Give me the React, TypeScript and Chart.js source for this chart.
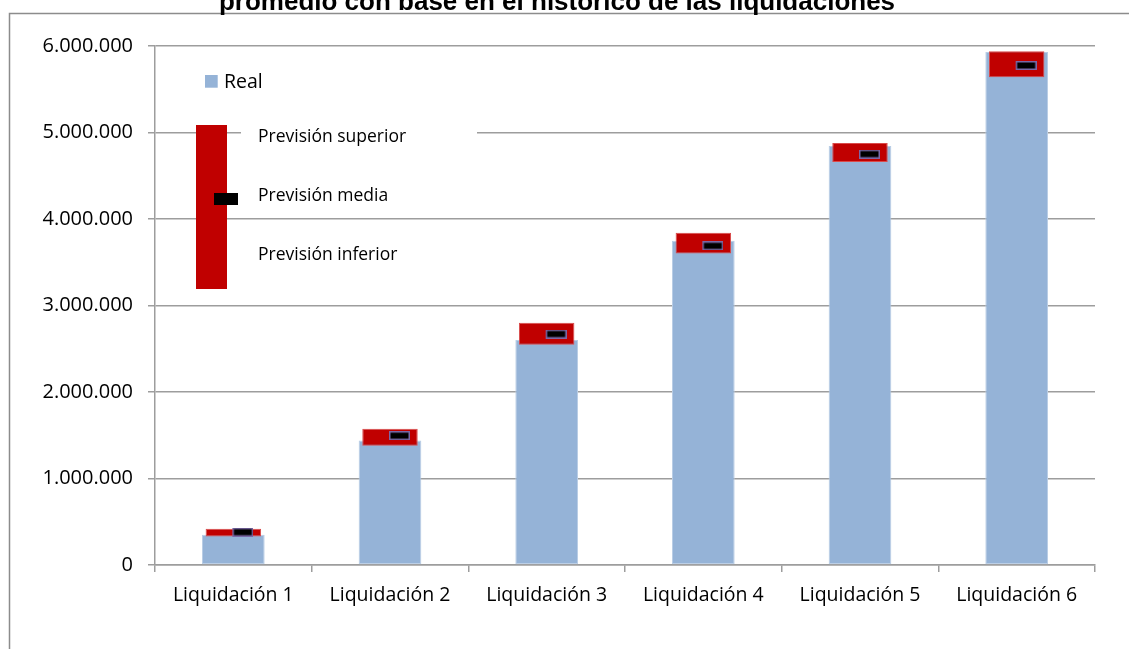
import React, { useEffect, useRef } from 'react';
import { Chart, registerables } from 'chart.js';

Chart.register(...registerables);

const categories = ['Liquidación 1', 'Liquidación 2', 'Liquidación 3', 'Liquidación 4', 'Liquidación 5', 'Liquidación 6'];
const realValues = [350000, 1440000, 2600000, 3750000, 4845000, 5930000];
const upperForecast = [420000, 1575000, 2800000, 3840000, 4880000, 5940000];
const lowerForecast = [330000, 1380000, 2545000, 3600000, 4660000, 5640000];
const meanForecast = [380000, 1495000, 2670000, 3690000, 4750000, 5775000];
const yTickValues = [0, 1000000, 2000000, 3000000, 4000000, 5000000, 6000000];
const titleText = 'promedio con base en el histórico de las liquidaciones';
const legendReal = 'Real';
const legendUpper = 'Previsión superior';
const legendMean = 'Previsión media';
const legendLower = 'Previsión inferior';

const FONT = '"Open Sans", sans-serif';
const BLUE = '#95B3D7';
const RED = '#C00000';
const GRID = '#9d9d9d';

function formatThousands(v: number): string {
  return String(Math.round(v)).replace(/\B(?=(\d{3})+(?!\d))/g, '.');
}

export default function App() {
  const ref = useRef<HTMLCanvasElement>(null);

  useEffect(() => {
    document.body.style.margin = '0';
    document.body.style.overflow = 'hidden';
    const canvas = ref.current!;

    const marker = document.createElement('canvas');
    marker.width = 40;
    marker.height = 9;
    const mctx = marker.getContext('2d')!;
    mctx.fillStyle = '#7a68a6';
    mctx.fillRect(19, 0, 21, 9);
    mctx.fillStyle = '#000000';
    mctx.fillRect(20.5, 1.5, 18, 6);

    const framePlugin = {
      id: 'frameAndLegend',
      afterDraw(chart: any) {
        const ctx = chart.ctx as CanvasRenderingContext2D;
        ctx.save();
        // outer frame
        ctx.strokeStyle = '#8c8c8c';
        ctx.lineWidth = 1.5;
        ctx.beginPath();
        ctx.moveTo(9.5, 649);
        ctx.lineTo(9.5, 13.5);
        ctx.lineTo(1129, 13.5);
        ctx.stroke();
        // title (clipped at top)
        ctx.fillStyle = '#000';
        ctx.font = 'bold 26px "Liberation Sans", Arial, sans-serif';
        ctx.textAlign = 'center';
        ctx.textBaseline = 'alphabetic';
        ctx.fillText(titleText, 557, 10);
        // legend
        ctx.fillStyle = '#ffffff';
        ctx.fillRect(241, 124, 236, 20);
        ctx.fillStyle = BLUE;
        ctx.fillRect(205, 75, 12.7, 12.7);
        ctx.fillStyle = '#000';
        ctx.textAlign = 'left';
        ctx.font = '19.5px ' + FONT;
        ctx.fillText(legendReal, 224, 88);
        ctx.fillStyle = RED;
        ctx.fillRect(196, 125, 31, 164);
        ctx.fillStyle = '#000';
        ctx.fillRect(214, 193, 24, 12);
        ctx.font = '17.5px ' + FONT;
        ctx.fillText(legendUpper, 258, 142);
        ctx.fillText(legendMean, 258, 201);
        ctx.fillText(legendLower, 258, 260);
        ctx.restore();
      },
    };

    const chart = new Chart(canvas, {
      type: 'bar',
      data: {
        labels: categories,
        datasets: [
          {
            type: 'line',
            label: legendMean,
            data: meanForecast,
            showLine: false,
            pointStyle: marker as any,
            pointRadius: 6,
            order: 1,
          } as any,
          {
            type: 'bar',
            label: 'Previsión',
            data: lowerForecast.map((l, i) => [l, upperForecast[i]]),
            backgroundColor: RED,
            borderColor: '#d94a4a',
            borderWidth: 1,
            borderSkipped: false,
            barPercentage: 0.354,
            categoryPercentage: 1,
            grouped: false,
            order: 2,
          } as any,
          {
            type: 'bar',
            label: legendReal,
            data: realValues,
            backgroundColor: BLUE,
            borderColor: '#b9cde5',
            borderWidth: 1,
            borderSkipped: false,
            barPercentage: 0.4,
            categoryPercentage: 1,
            grouped: false,
            order: 3,
          } as any,
        ],
      },
      options: {
        responsive: false,
        animation: false,
        devicePixelRatio: 1,
        layout: { padding: { top: 46, right: 34, left: 0, bottom: 0 } },
        plugins: {
          legend: { display: false },
          tooltip: { enabled: false },
          title: { display: false },
        },
        scales: {
          x: {
            offset: true,
            afterFit: (s: any) => { s.height = 84; },
            grid: {
              offset: true,
              drawOnChartArea: false,
              drawTicks: true,
              tickLength: 7,
              color: GRID,
              lineWidth: 1.5,
            },
            border: { display: true, color: GRID, width: 1.5 },
            ticks: {
              color: '#000',
              font: { family: FONT, size: 19.5 },
              padding: 12,
              maxRotation: 0,
              autoSkip: false,
            },
          },
          y: {
            min: 0,
            max: 6000000,
            afterFit: (s: any) => { s.width = 155; },
            afterBuildTicks: (s: any) => { s.ticks = yTickValues.map((v) => ({ value: v })); },
            grid: {
              color: GRID,
              lineWidth: 1.5,
              tickLength: 7,
              drawTicks: true,
            },
            border: { display: true, color: GRID, width: 1.5 },
            ticks: {
              color: '#000',
              font: { family: FONT, size: 20 },
              padding: 15,
              callback: (v: any) => formatThousands(Number(v)),
            },
          },
        },
      },
      plugins: [framePlugin],
    });

    return () => chart.destroy();
  }, []);

  return <canvas ref={ref} width={1129} height={649} style={{ display: 'block' }} />;
}
